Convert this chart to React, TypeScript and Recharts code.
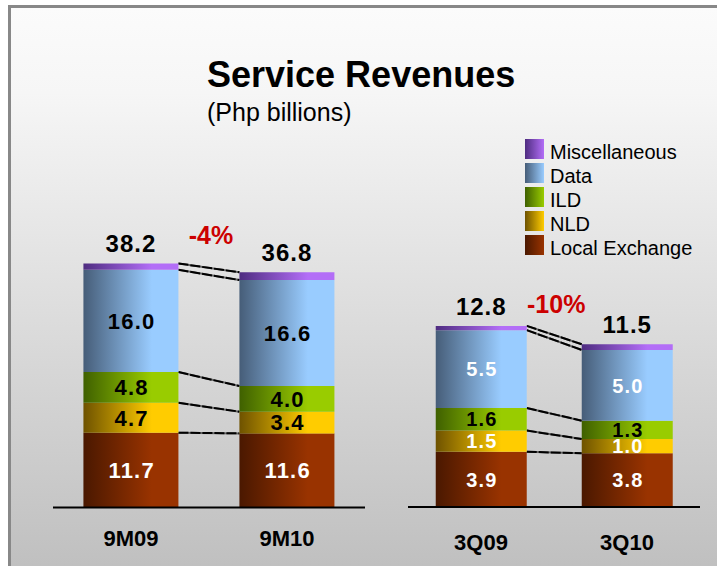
import { BarChart, Bar, XAxis, YAxis, LabelList } from 'recharts'

// stacking order, bottom to top
const seriesKeys = ['local', 'nld', 'ild', 'data', 'misc']
const seriesNames = ['Local Exchange', 'NLD', 'ILD', 'Data', 'Miscellaneous']
const seriesDark = ['#4a1800', '#6e5200', '#3f6000', '#465d78', '#4e2c80']
const seriesLight = ['#993300', '#ffcc00', '#99cc00', '#99ccff', '#b36ef7']

const ninePeriods = ['9M09', '9M10']
const nineLocal = [11.7, 11.6]
const nineNld = [4.7, 3.4]
const nineIld = [4.8, 4.0]
const nineData = [16.0, 16.6]
const nineMisc = [1.0, 1.2]
const nineTotals = [38.2, 36.8]
const nineChange = '-4%'

const quarterPeriods = ['3Q09', '3Q10']
const quarterLocal = [3.9, 3.8]
const quarterNld = [1.5, 1.0]
const quarterIld = [1.6, 1.3]
const quarterData = [5.5, 5.0]
const quarterMisc = [0.3, 0.4]
const quarterTotals = [12.8, 11.5]
const quarterChange = '-10%'

const font = '"Liberation Sans", Arial, sans-serif'

function buildRows(periods: string[], local: number[], nld: number[], ild: number[], data: number[], misc: number[], totals: number[]) {
  return periods.map((p, i) => ({
    period: p,
    local: local[i],
    nld: nld[i],
    ild: ild[i],
    data: data[i],
    misc: misc[i],
    total: totals[i],
  }))
}

const nineRows = buildRows(ninePeriods, nineLocal, nineNld, nineIld, nineData, nineMisc, nineTotals)
const quarterRows = buildRows(quarterPeriods, quarterLocal, quarterNld, quarterIld, quarterData, quarterMisc, quarterTotals)

type Row = ReturnType<typeof buildRows>[number]

const cumulative = (row: Row, upTo: number) =>
  seriesKeys.slice(0, upTo + 1).reduce((s, k) => s + (row as any)[k], 0)

interface PanelProps {
  id: string
  rows: Row[]
  change: string
  left: number
  width: number
  baseline: number
  pxPerUnit: number
  maxY: number
  gap: number
  labelColors: (string | null)[]
  labelSize: number
  changeDy: number
  tickDy: number
}

function Panel({ id, rows, change, left, width, baseline, pxPerUnit, maxY, gap, labelColors, labelSize, changeDy, tickDy }: PanelProps) {
  const plotHeight = maxY * pxPerUnit
  const axisHeight = 50
  const band = width / rows.length

  // first segment also draws the series lines between the two bars
  const localShape = (props: any) => {
    const { x, y, width: w, height: h, index, fill } = props
    const rect = <rect x={x} y={y} width={w} height={h} fill={fill} />
    if (index !== 0) return rect
    const ppu = h / rows[0].local
    const base = y + h
    const x1 = x + w
    const x2 = x + band
    return (
      <g>
        {rect}
        {seriesKeys.map((k, i) => {
          const y1 = base - cumulative(rows[0], i) * ppu
          const y2 = base - cumulative(rows[1], i) * ppu
          return (
            <g key={k}>
              <line x1={x1} y1={y1} x2={x2} y2={y2} stroke="#666" strokeWidth={2} />
              <line x1={x1} y1={y1} x2={x2} y2={y2} stroke="#000" strokeWidth={2} strokeDasharray="10 2" />
            </g>
          )
        })}
      </g>
    )
  }

  const segLabel = (color: string) => (p: any) => {
    const vb = p.viewBox ?? p
    const { x, y, width: w, height: h } = vb
    return (
      <text
        x={x + w / 2 + 0.75}
        y={y + h / 2 + labelSize * 0.36}
        textAnchor="middle"
        fill={color}
        fontSize={labelSize}
        fontWeight="bold"
        letterSpacing={1.2}
        fontFamily={font}
      >
        {Number(p.value).toFixed(1)}
      </text>
    )
  }

  const totalLabel = (p: any) => {
    const vb = p.viewBox ?? p
    const { x, y, width: w } = vb
    return (
      <g>
        <text x={x + w / 2} y={y - 11} textAnchor="middle" fill="#000" fontSize={24} fontWeight="bold" letterSpacing={1} fontFamily={font}>
          {Number(p.value).toFixed(1)}
        </text>
        {p.index === 0 && (
          <text x={x + w + (band - w) / 2 + 2} y={y - changeDy} textAnchor="middle" fill="#cc0000" fontSize={25} fontWeight="bold" fontFamily={font}>
            {change}
          </text>
        )}
      </g>
    )
  }

  const tick = (p: any) => (
    <text x={p.x} y={p.y + tickDy} textAnchor="middle" fill="#000" fontSize={22} fontWeight="bold" fontFamily={font}>
      {p.payload.value}
    </text>
  )

  return (
    <div style={{ position: 'absolute', left, top: baseline - plotHeight }}>
      <BarChart
        width={width}
        height={plotHeight + axisHeight}
        data={rows}
        margin={{ top: 0, right: 0, bottom: 0, left: 0 }}
        barCategoryGap={`${gap}%`}
      >
        <defs>
          {seriesKeys.map((k, i) => (
            <linearGradient key={k} id={`${id}-${k}`} x1="0" y1="0" x2="1" y2="0">
              <stop offset="0" stopColor={seriesDark[i]} />
              <stop offset="0.72" stopColor={seriesLight[i]} />
              <stop offset="1" stopColor={seriesLight[i]} />
            </linearGradient>
          ))}
        </defs>
        <XAxis
          dataKey="period"
          height={axisHeight}
          axisLine={{ stroke: '#000', strokeWidth: 2 }}
          tickLine={false}
          tick={tick}
        />
        <YAxis hide domain={[0, maxY]} />
        {seriesKeys.map((k, i) => (
          <Bar
            key={k}
            dataKey={k}
            stackId="a"
            fill={`url(#${id}-${k})`}
            isAnimationActive={false}
            shape={k === 'local' ? localShape : undefined}
          >
            {labelColors[i] && <LabelList dataKey={k} content={segLabel(labelColors[i] as string)} />}
            {k === 'misc' && <LabelList dataKey="total" content={totalLabel} />}
          </Bar>
        ))}
      </BarChart>
    </div>
  )
}

function LegendBox() {
  const order = [4, 3, 2, 1, 0]
  return (
    <svg width={717} height={566} style={{ position: 'absolute', left: 0, top: 0, pointerEvents: 'none' }}>
      <defs>
        {seriesKeys.map((k, i) => (
          <linearGradient key={k} id={`lg-${k}`} x1="0" y1="0" x2="1" y2="0">
            <stop offset="0" stopColor={seriesDark[i]} />
            <stop offset="1" stopColor={seriesLight[i]} />
          </linearGradient>
        ))}
      </defs>
      <text x={207} y={87} fontSize={36} fontWeight="bold" fontFamily={font} fill="#000">
        Service Revenues
      </text>
      <text x={207} y={121} fontSize={25} fontFamily={font} fill="#000">
        (Php billions)
      </text>
      {order.map((s, j) => (
        <g key={seriesKeys[s]}>
          <rect x={525} y={139 + j * 24} width={19} height={20} fill={`url(#lg-${seriesKeys[s]})`} />
          <text x={550} y={159 + j * 24} fontSize={20} fontFamily={font} fill="#000">
            {seriesNames[s]}
          </text>
        </g>
      ))}
    </svg>
  )
}

export default function App() {
  return (
    <div style={{ position: 'fixed', left: 0, top: 0, width: 717, height: 566, overflow: 'hidden', background: '#fff' }}>
      <div
        style={{
          position: 'absolute',
          left: 8,
          top: 5,
          width: 760,
          height: 565,
          borderTop: '3px solid #888',
          borderLeft: '3px solid #888',
          background: 'linear-gradient(#fbfbfb 0%, #f6f6f6 15%, #bfbfbf 100%)',
        }}
      />
      <LegendBox />
      <Panel
        id="nine"
        rows={nineRows}
        change={nineChange}
        left={53}
        width={312}
        baseline={507}
        pxPerUnit={6.39}
        maxY={50}
        gap={19.5}
        labelColors={['#fff', '#000', '#000', '#000', null]}
        labelSize={22}
        changeDy={19}
        tickDy={30}
      />
      <Panel
        id="qtr"
        rows={quarterRows}
        change={quarterChange}
        left={408}
        width={292}
        baseline={507}
        pxPerUnit={14.15}
        maxY={20}
        gap={19}
        labelColors={['#fff', '#fff', '#000', '#fff', null]}
        labelSize={20}
        changeDy={13}
        tickDy={35}
      />
    </div>
  )
}
